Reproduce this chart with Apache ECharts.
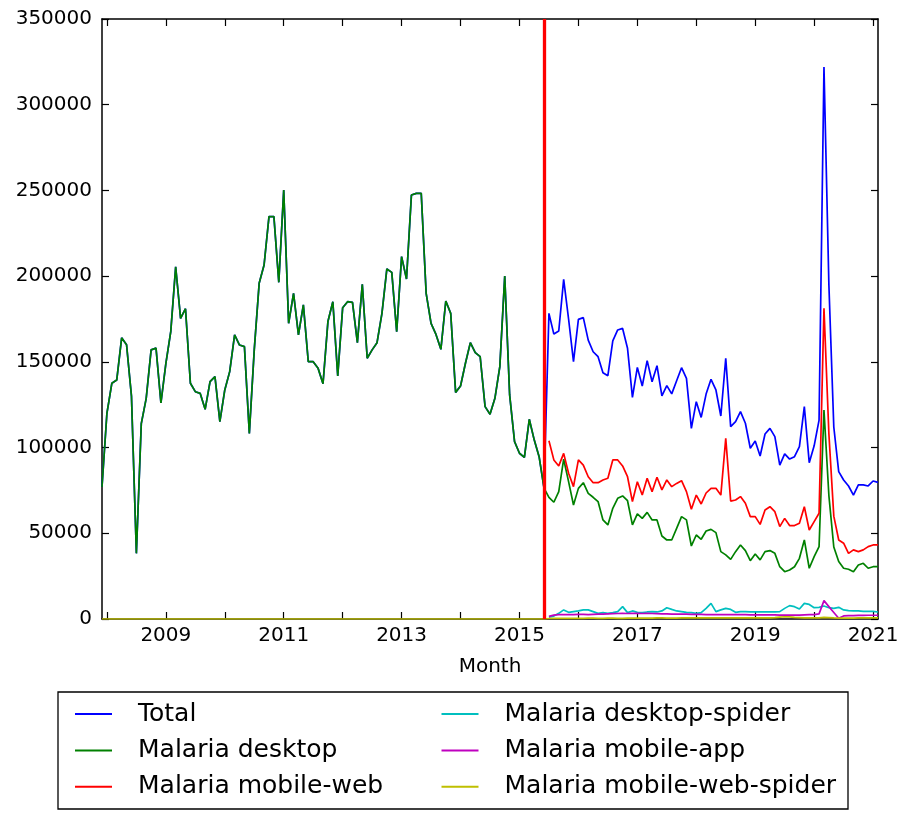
<!DOCTYPE html>
<html><head><meta charset="utf-8">
<script src="https://cdn.jsdelivr.net/npm/echarts@6/dist/echarts.min.js"></script>
<style>html,body{margin:0;padding:0;background:#fff}#chart{width:912px;height:816px}</style>
</head><body><div id="chart"></div>
<script>
// ---- data ----
const startMonth = '2007-12';   // first month of the series
const splitMonth = '2015-06';   // last month of legacy data (red marker)
const tickYears = [2008, 2009, 2010, 2011, 2012, 2013, 2014, 2015, 2016, 2017, 2018, 2019, 2020, 2021];
const labelYears = [2009, 2011, 2013, 2015, 2017, 2019, 2021];
const seriesNames = ['Total', 'Malaria desktop', 'Malaria mobile-web', 'Malaria desktop-spider', 'Malaria mobile-app', 'Malaria mobile-web-spider'];

// Legacy desktop counts, Dec 2007 - Jun 2015 (Total equals desktop in this period)
const legacyDesktop = [
  77000,
  120000, 137500, 139400, 164000, 160000, 130000, 38300, 114000, 128700, 157000, 158000, 126000,
  149000, 167600, 205500, 175400, 181000, 137500, 132600, 131600, 122300, 138500, 141400, 115100,
  133600, 144300, 165700, 159800, 158900, 108300, 157000, 195800, 206500, 234700, 234700, 196400,
  250200, 172500, 190000, 165700, 183200, 150100, 150100, 146200, 137200, 173500, 185100, 141800,
  181600, 185100, 184700, 161200, 195200, 152100, 157000, 161200, 178300, 204200, 202200, 167600,
  211400, 198300, 247300, 248300, 248300, 190000, 172500, 166000, 157300, 185500, 178300, 132200,
  135900, 149200, 161200, 155400, 153000, 123900, 119400, 128700, 147200, 200100, 130700, 103500,
  96700, 94300, 116500, 104500, 94700, 76300
];

// New data, Jul 2015 - Feb 2021
const total = [
  178300, 166200, 168000, 198100, 175000, 150100,
  174800, 175800, 162700, 155900, 153000, 143700, 141900, 162200, 168600, 169500, 157900, 129300,
  146800, 135900, 150700, 138400, 147800, 130100, 136100, 131300, 139000, 146600, 140400, 111200,
  126800, 117600, 131200, 139800, 133600, 118400, 152100, 112200, 115100, 121000, 114200, 99600,
  103800, 95100, 107900, 111200, 106400, 89800, 96300, 93300, 94700, 100500, 123900, 91200,
  101000, 116000, 322000, 195000, 112000, 86000, 81100, 77600, 72300, 78200, 78200, 77600,
  80500, 79700
];
const desktop = [
  71000, 68100, 74300, 93200, 80100, 66500,
  76200, 79500, 73300, 71000, 68500, 57800, 54900, 64600, 70400, 71800, 69000, 54900,
  61300, 58700, 62200, 57800, 57800, 48400, 46100, 46100, 52900, 59700, 57800, 42600,
  49000, 46500, 51300, 52300, 50400, 39300, 37400, 34800, 39300, 43200, 39900, 34000,
  37900, 34500, 39300, 39900, 38300, 30500, 27600, 28600, 30500, 35400, 46100, 29600,
  36400, 42200, 121900, 72000, 42000, 33500, 29600, 29000, 27600, 31500, 32500, 29600,
  30500, 30500
];
const mobileWeb = [
  104000, 92800, 89300, 96600, 85000, 77200,
  92800, 89800, 83000, 79500, 79500, 81100, 82100, 92800, 92800, 89300, 83000, 68500,
  80100, 72300, 82100, 74300, 82700, 75300, 81100, 77200, 79100, 80700, 74300, 64000,
  72300, 67100, 73500, 76200, 76200, 72300, 105400, 68800, 69400, 71400, 67500, 59700,
  59700, 55200, 63600, 65500, 62600, 53900, 58700, 54500, 54500, 55800, 65500, 51900,
  56800, 61700, 181200, 108000, 60000, 46100, 44200, 38300, 40300, 39300, 40300, 42200,
  43200, 43200
];
const desktopSpider = [
  1000, 1700, 3300, 5300, 3900, 4300,
  4700, 5300, 5300, 4300, 3300, 3700, 3300, 3700, 4300, 7200, 3700, 4700,
  3900, 3700, 4100, 4300, 4100, 4700, 6600, 5600, 4700, 4300, 3900, 3700,
  3300, 3700, 6200, 9100, 4300, 5300, 6200, 5600, 3900, 4300, 4300, 4100,
  4100, 4100, 4100, 4100, 4100, 4300, 6200, 7800, 7200, 5800, 9100, 8500,
  6600, 6800, 7600, 6600, 6200, 6800, 5300, 4900, 4700, 4700, 4500, 4500,
  4500, 4100
];
const mobileApp = [
  1500, 2300, 2500, 2600, 2600, 2500,
  2700, 2700, 2600, 2700, 2800, 2900, 3000, 3100, 3200, 3300, 3200, 3300,
  3300, 3200, 3300, 3200, 3100, 3000, 3000, 2900, 2900, 2800, 2800, 2700,
  2700, 2700, 2600, 2600, 2600, 2600, 2500, 2500, 2500, 2500, 2500, 2400,
  2400, 2400, 2400, 2400, 2400, 2300, 2300, 2300, 2300, 2300, 2400, 2500,
  2600, 3000, 10700, 7200, 3800, 400, 1800, 2000, 2000, 2100, 2100, 2200,
  2200, 2200
];
const mobileWebSpider = [
  300, 400, 400, 400, 400, 400,
  400, 400, 500, 500, 400, 400, 500, 500, 400, 400, 500, 500,
  500, 500, 500, 500, 600, 600, 500, 500, 500, 600, 600, 600,
  600, 600, 600, 600, 600, 700, 700, 700, 600, 600, 600, 600,
  600, 700, 700, 700, 800, 1100, 1300, 1200, 900, 800, 700, 700,
  700, 700, 900, 800, 600, 500, 500, 500, 500, 600, 600, 600,
  600, 600
];
const legacyMobileWebSpider = legacyDesktop.map(() => 0); // drawn on the zero line before 2015

// ---- helpers ----
const baseYear = tickYears[0];
function monthOffset(s) { const p = s.split('-').map(Number); return (p[0] - baseYear) * 12 + (p[1] - 1); }
const x0 = monthOffset(startMonth);
const nLegacy = legacyDesktop.length;
const nTotal = nLegacy + total.length;
const legacyX = i => x0 + i;
const newX = j => x0 + nLegacy + j;
function build(legacy, recent) {
  const out = [];
  if (legacy) legacy.forEach((v, i) => out.push([legacyX(i), v]));
  recent.forEach((v, j) => out.push([newX(j), v]));
  return out;
}
const tickVals = tickYears.map(y => (y - baseYear) * 12);
const labelVals = labelYears.map(y => (y - baseYear) * 12);

const FONT = 'DejaVu Sans';
const colors = ['#0000ff', '#008000', '#ff0000', '#00bfbf', '#bf00bf', '#bfbf00'];
const seriesData = [
  build(legacyDesktop, total),
  build(legacyDesktop, desktop),
  build(null, mobileWeb),
  build(null, desktopSpider),
  build(null, mobileApp),
  build(legacyMobileWebSpider, mobileWebSpider)
];

const chart = echarts.init(document.getElementById('chart'), null, { renderer: 'canvas' });
const axisLineStyle = { color: '#000', width: 1.5 };
const tickStyle = { color: '#000', width: 1.2 };
const xMin = x0, xMax = x0 + nTotal - 1;

const series = seriesNames.map((name, k) => ({
  name, type: 'line', data: seriesData[k], symbol: 'none', showSymbol: false,
  lineStyle: { color: colors[k], width: 1.7 }, itemStyle: { color: colors[k] },
  animation: false, z: 2 + k * 0.01
}));
series[5].markLine = {
  silent: true, symbol: 'none', animation: false,
  label: { show: false },
  lineStyle: { color: '#ff0000', width: 3.3, type: 'solid' },
  data: [{ xAxis: monthOffset(splitMonth) }]
};

const legendBase = {
  orient: 'vertical', padding: 0, icon: 'rect', itemWidth: 37, itemHeight: 2, itemGap: 6.4,
  selectedMode: false, z: 10,
  textStyle: { fontFamily: FONT, fontSize: 25, color: '#000', padding: [0, 0, 0, 21], lineHeight: 30 }
};

chart.setOption({
  backgroundColor: '#fff',
  animation: false,
  grid: { left: 102, right: 34, top: 19, bottom: 197, containLabel: false, outerBoundsMode: 'none' },
  xAxis: [
    {
      type: 'value', position: 'bottom', min: xMin, max: xMax,
      axisLine: { show: true, onZero: false, lineStyle: axisLineStyle },
      axisTick: { show: true, inside: true, length: 7, lineStyle: tickStyle, customValues: tickVals },
      axisLabel: { show: true, customValues: labelVals, margin: 7, fontFamily: FONT, fontSize: 20, color: '#000',
        formatter: v => String(baseYear + Math.round(v / 12)) },
      splitLine: { show: false },
      name: 'Month', nameLocation: 'middle', nameGap: 38,
      nameTextStyle: { fontFamily: FONT, fontSize: 20, color: '#000' }
    },
    {
      type: 'value', position: 'top', min: xMin, max: xMax,
      axisLine: { show: true, onZero: false, lineStyle: axisLineStyle },
      axisTick: { show: true, inside: true, length: 7, lineStyle: tickStyle, customValues: tickVals },
      axisLabel: { show: false }, splitLine: { show: false }
    }
  ],
  yAxis: [
    {
      type: 'value', position: 'left', min: 0, max: 350000, interval: 50000,
      axisLine: { show: true, onZero: false, lineStyle: axisLineStyle },
      axisTick: { show: true, inside: true, length: 7, lineStyle: tickStyle },
      axisLabel: { margin: 10, fontFamily: FONT, fontSize: 20, color: '#000', formatter: v => String(v) },
      splitLine: { show: false }
    },
    {
      type: 'value', position: 'right', min: 0, max: 350000, interval: 50000,
      axisLine: { show: true, onZero: false, lineStyle: axisLineStyle },
      axisTick: { show: true, inside: true, length: 7, lineStyle: tickStyle },
      axisLabel: { show: false }, splitLine: { show: false }
    }
  ],
  legend: [
    Object.assign({}, legendBase, { left: 75, top: 699, data: seriesNames.slice(0, 3) }),
    Object.assign({}, legendBase, { left: 441.5, top: 699, data: seriesNames.slice(3, 6) })
  ],
  graphic: [{
    type: 'rect', z: 1, silent: true,
    shape: { x: 58, y: 692, width: 790, height: 117 },
    style: { fill: '#fff', stroke: '#000', lineWidth: 1.3 }
  }],
  series
});
</script></body></html>
